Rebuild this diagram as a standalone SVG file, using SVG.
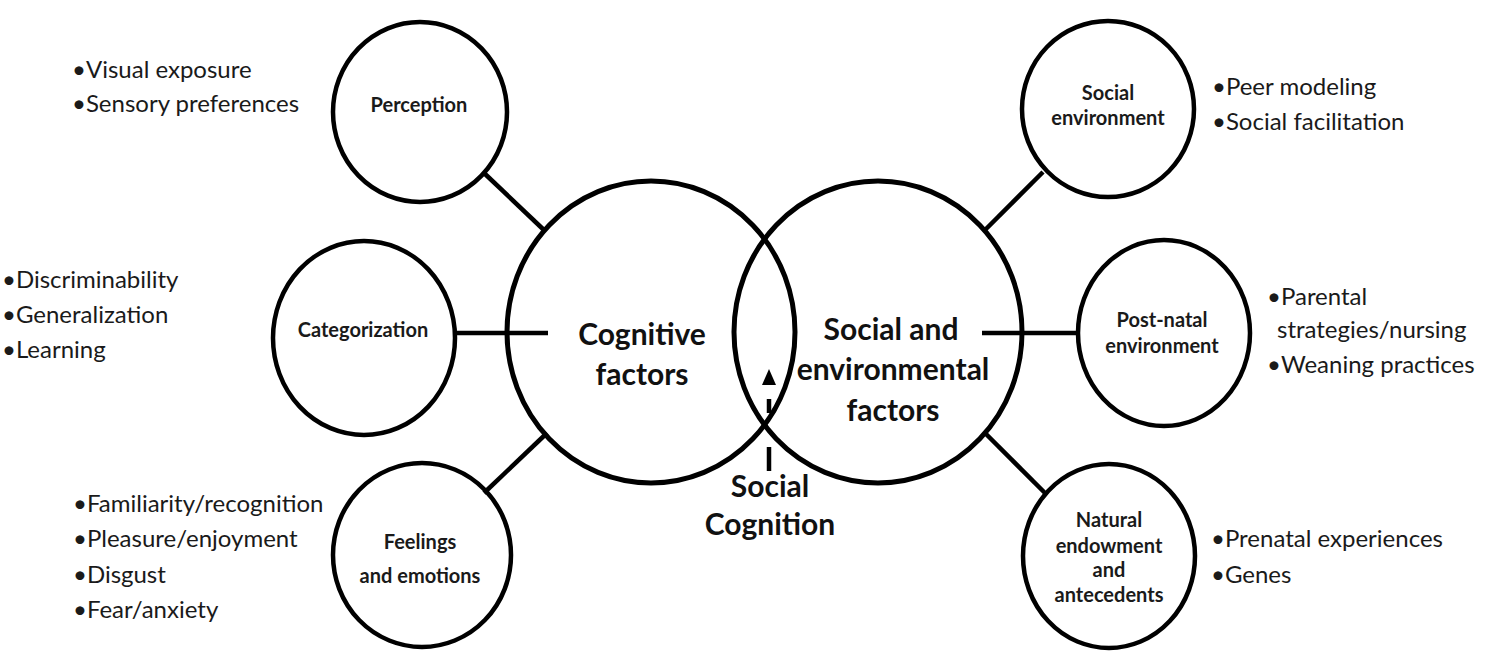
<svg xmlns="http://www.w3.org/2000/svg" width="1485" height="653" viewBox="0 0 1485 653">
<style>
.c{fill:none;stroke:#000;stroke-width:4.5}
.big{fill:none;stroke:#000;stroke-width:5}
.ln{stroke:#000;stroke-width:4.5;fill:none}
.n{font-family:Lato,"Open Sans",sans-serif;font-weight:bold;font-size:20px;fill:#1a1a1a;text-anchor:middle}
.b{font-family:Lato,"Open Sans",sans-serif;font-weight:bold;font-size:30px;fill:#111;text-anchor:middle}
.t{font-family:Lato,"Open Sans",sans-serif;font-size:24px;fill:#1a1a1a}
</style>
<rect width="1485" height="653" fill="#fff"/>
<g id="connectors">
<line class="ln" x1="484" y1="173" x2="545" y2="231"/>
<line class="ln" x1="455" y1="333" x2="548" y2="333"/>
<line class="ln" x1="484" y1="493" x2="547" y2="433"/>
<line class="ln" x1="1043" y1="172" x2="985" y2="230"/>
<line class="ln" x1="982" y1="333" x2="1079" y2="333"/>
<line class="ln" x1="985" y1="433" x2="1046" y2="494"/>
<path d="M769,369 L776,385 L762,385 Z" fill="#000"/>
<line class="ln" x1="769" y1="399" x2="769" y2="413" stroke-width="5"/>
<line class="ln" x1="769" y1="447" x2="769" y2="471" stroke-width="5"/>
</g>
<g id="cognitive">
<ellipse class="big" cx="651" cy="332" rx="144" ry="151"/>
<text class="b" x="642" y="345">Cognitive</text>
<text class="b" x="642" y="385">factors</text>
</g>
<g id="social-env-factors">
<ellipse class="big" cx="878" cy="332" rx="144" ry="151"/>
<text class="b" x="891" y="340">Social and</text>
<text class="b" x="893" y="380">environmental</text>
<text class="b" x="893" y="421">factors</text>
</g>
<g id="social-cognition">
<text class="b" x="770" y="497">Social</text>
<text class="b" x="770" y="535">Cognition</text>
</g>
<g id="perception">
<ellipse class="c" cx="420" cy="112" rx="87" ry="90"/>
<text class="n" x="419" y="112">Perception</text>
<text class="t" x="72" y="78">•Visual exposure</text>
<text class="t" x="72" y="112">•Sensory preferences</text>
</g>
<g id="categorization">
<ellipse class="c" cx="364" cy="338" rx="91" ry="97"/>
<text class="n" x="363" y="337">Categorization</text>
<text class="t" x="2" y="288">•Discriminability</text>
<text class="t" x="2" y="323">•Generalization</text>
<text class="t" x="2" y="358">•Learning</text>
</g>
<g id="feelings">
<ellipse class="c" cx="422" cy="555" rx="89" ry="92"/>
<text class="n" x="420" y="549">Feelings</text>
<text class="n" x="420" y="583">and emotions</text>
<text class="t" x="73" y="512">•Familiarity/recognition</text>
<text class="t" x="73" y="547">•Pleasure/enjoyment</text>
<text class="t" x="73" y="583">•Disgust</text>
<text class="t" x="73" y="618">•Fear/anxiety</text>
</g>
<g id="social-environment">
<ellipse class="c" cx="1108" cy="109" rx="86" ry="88"/>
<text class="n" x="1108" y="100">Social</text>
<text class="n" x="1108" y="125">environment</text>
<text class="t" x="1212" y="95">•Peer modeling</text>
<text class="t" x="1212" y="130">•Social facilitation</text>
</g>
<g id="post-natal">
<ellipse class="c" cx="1164" cy="333" rx="86" ry="93"/>
<text class="n" x="1162" y="327">Post-natal</text>
<text class="n" x="1162" y="353">environment</text>
<text class="t" x="1267" y="305">•Parental</text>
<text class="t" x="1277" y="338">strategies/nursing</text>
<text class="t" x="1267" y="373">•Weaning practices</text>
</g>
<g id="natural-endowment">
<ellipse class="c" cx="1109" cy="556" rx="86" ry="92"/>
<text class="n" x="1109" y="527">Natural</text>
<text class="n" x="1109" y="553">endowment</text>
<text class="n" x="1109" y="577">and</text>
<text class="n" x="1109" y="602">antecedents</text>
<text class="t" x="1211" y="547">•Prenatal experiences</text>
<text class="t" x="1211" y="583">•Genes</text>
</g>
</svg>
